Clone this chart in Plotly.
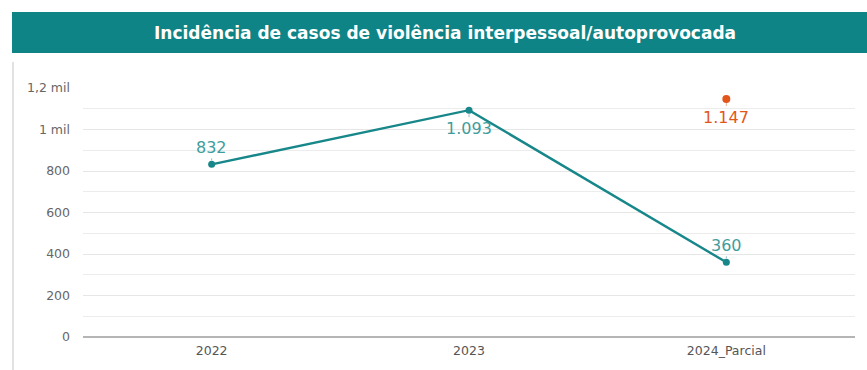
import plotly.graph_objects as go

categories = ["2022", "2023", "2024_Parcial"]
casos = [832, 1093, 360]
meta_cat = ["2024_Parcial"]
meta_val = [1147]
ytick_vals = [0, 200, 400, 600, 800, 1000, 1200]
ytick_text = ["0", "200", "400", "600", "800", "1 mil", "1,2 mil"]
title = "Incidência de casos de violência interpessoal/autoprovocada"

TEAL = "#17878a"
TEAL_TXT = "#3f9c9c"
ORANGE = "#e2561c"
FONT = "DejaVu Sans"

def fmt(v):
    return f"{v:,}".replace(",", ".")

W, H = 867, 370
L, R, T, B = 83, 12, 88, 33
pw, ph = W - L - R, H - T - B

def px_x(x):
    return (x - L) / pw

def px_y(y):
    return (H - B - y) / ph

fig = go.Figure()
fig.add_trace(go.Scatter(
    x=categories, y=casos, mode="lines+markers",
    line=dict(color=TEAL, width=2.4),
    marker=dict(color=TEAL, size=7),
    hoverinfo="skip", showlegend=False,
))
fig.add_trace(go.Scatter(
    x=meta_cat, y=meta_val, mode="markers",
    marker=dict(color=ORANGE, size=8),
    hoverinfo="skip", showlegend=False,
))

offsets = [-17, 18, -17]
for i, (c, v, dy) in enumerate(zip(categories, casos, offsets)):
    fig.add_annotation(
        x=i, y=v, text=fmt(v), showarrow=True, arrowhead=0, arrowwidth=1,
        arrowcolor="#9cbcbc", ax=0, ay=dy,
        standoff=4, font=dict(size=16, color=TEAL_TXT, family=FONT),
        yanchor="middle",
    )
for c, v in zip(meta_cat, meta_val):
    fig.add_annotation(
        x=categories.index(c), y=v, text=fmt(v), showarrow=True, arrowhead=0,
        arrowwidth=1, arrowcolor="#e8b09a", ax=0, ay=18, standoff=4,
        font=dict(size=16, color=ORANGE, family=FONT), yanchor="middle",
    )

fig.add_shape(type="rect", xref="paper", yref="paper", layer="below",
              x0=px_x(12), x1=px_x(870), y0=px_y(53), y1=px_y(12),
              line=dict(width=0), fillcolor="#0e8487")
fig.add_shape(type="line", xref="paper", yref="paper", layer="below",
              x0=px_x(13), x1=px_x(13), y0=px_y(372), y1=px_y(62),
              line=dict(width=2, color="#e2e2e2"))
fig.add_annotation(xref="paper", yref="paper", x=px_x(445), y=px_y(33),
                   text=f"<b>{title}</b>", showarrow=False,
                   font=dict(size=17, color="white", family=FONT),
                   xanchor="center", yanchor="middle")

fig.update_layout(
    width=W, height=H,
    margin=dict(l=L, r=R, t=T, b=B),
    paper_bgcolor="white", plot_bgcolor="white",
    font=dict(family=FONT, color="#666666"),
    xaxis=dict(type="category", range=[-0.5, 2.5], showgrid=False,
               showline=False, zeroline=False,
               tickfont=dict(size=12.5, color="#555555", family=FONT), ticks="",
               ticklabelstandoff=4),
    yaxis=dict(range=[0, 1200], tickvals=ytick_vals, ticktext=ytick_text,
               showgrid=True, gridcolor="#e6e6e6", gridwidth=1,
               zeroline=True, zerolinecolor="#b5b5b5", zerolinewidth=2,
               tickfont=dict(size=12.5, color="#666666", family=FONT), ticks="",
               ticklabelstandoff=12,
               minor=dict(tickvals=[100, 300, 500, 700, 900, 1100],
                          showgrid=True, gridcolor="#ececec", gridwidth=1)),
)

fig.write_html("out.html")
